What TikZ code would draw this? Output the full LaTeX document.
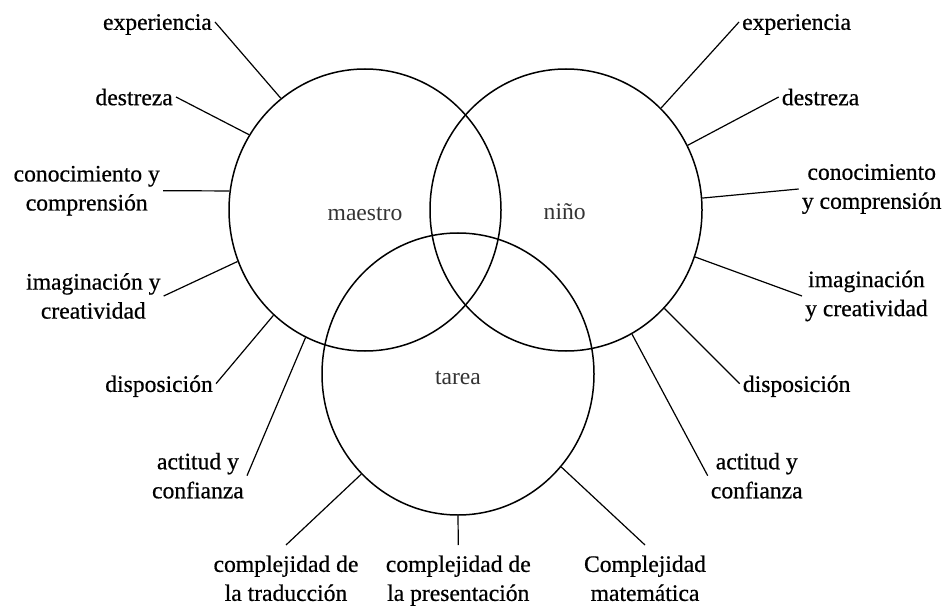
\documentclass[tikz,border=0pt]{standalone}
\usepackage{fontspec}
\setmainfont{Liberation Serif}
\newfontfamily\lblfont{Liberation Serif}[FakeBold=0.6]
\usetikzlibrary{shapes.geometric}

\begin{document}
\begin{tikzpicture}[x=1pt,y=1pt,
		ring/.style={draw, ellipse, line width=1.5pt, minimum width=272pt, minimum height=282pt, inner sep=0pt},
		txt/.style={font=\lblfont\fontsize{23.6}{29}\selectfont, align=center, inner sep=3pt},
		oneline/.style={txt, text depth=0pt},
		bottomtxt/.style={txt, anchor=north, outer sep=7.5pt},
		setname/.style={font=\fontsize{23.6}{29}\selectfont, text=black!80, anchor=base},
		link/.style={line width=1.2pt}]
				\useasboundingbox (0,0) rectangle (947,606);
				% the three sets
				\node[ring] (ma) at (365,396) {};
				\node[ring] (ni) at (566,396) {};
				\node[ring] (ta) at (458,232) {};
				\node[setname] (mal) at (365,385.3) {maestro};
				\node[setname] (nil) at (564.7,386) {niño};
				\node[setname] (tal) at (458,221.7) {tarea};

				% maestro
				\node[oneline, anchor=east] (exl) at (215,584) {experiencia};
				\node[oneline, anchor=east] (del) at (176,509) {destreza};
				\node[txt, anchor=east] (col) at (163,415.3) {conocimiento y\\comprensión};
				\node[txt, anchor=east] (iml) at (163.7,310) {imaginación y\\creatividad};
				\node[oneline, anchor=east] (dil) at (216,222.3) {disposición};
				\node[txt, anchor=east] (acl) at (247,130.3) {actitud y\\confianza};

				% niño
				\node[oneline, anchor=west] (exr) at (739,584) {experiencia};
				\node[oneline, anchor=west] (der) at (778.7,509) {destreza};
				\node[txt, anchor=west] (cor) at (798.7,417) {conocimiento\\y comprensión};
				\node[txt, anchor=west] (imr) at (802,310) {imaginación\\y creatividad};
				\node[oneline, anchor=west] (dir) at (739.7,222.3) {disposición};
				\node[txt, anchor=west] (acr) at (707.7,130.3) {actitud y\\confianza};

				% tarea
				\node[bottomtxt] (ctl) at (286,61) {complejidad de\\la traducción};
				\node[bottomtxt] (cpl) at (458.3,61) {complejidad de\\la presentación};
				\node[bottomtxt] (cml) at (645,61) {Complejidad\\matemática};

				\foreach \from/\to in {exl.east/ma.127.7, del.east/ma.147.9, col.east/ma.172.9,
						iml.east/ma.202, dil.east/ma.229.1, acl.east/ma.245.6,
						exr.west/ni.47.9, der.west/ni.28.7, cor.west/ni.5.6,
						imr.west/ni.340.8, dir.west/ni.315.5, acr.west/ni.298.3,
						ctl.north/ta.226.2, cpl.north/ta.270, cml.north/ta.318.4}
					\draw[link] (\from) -- (\to);
\end{tikzpicture}
\end{document}
